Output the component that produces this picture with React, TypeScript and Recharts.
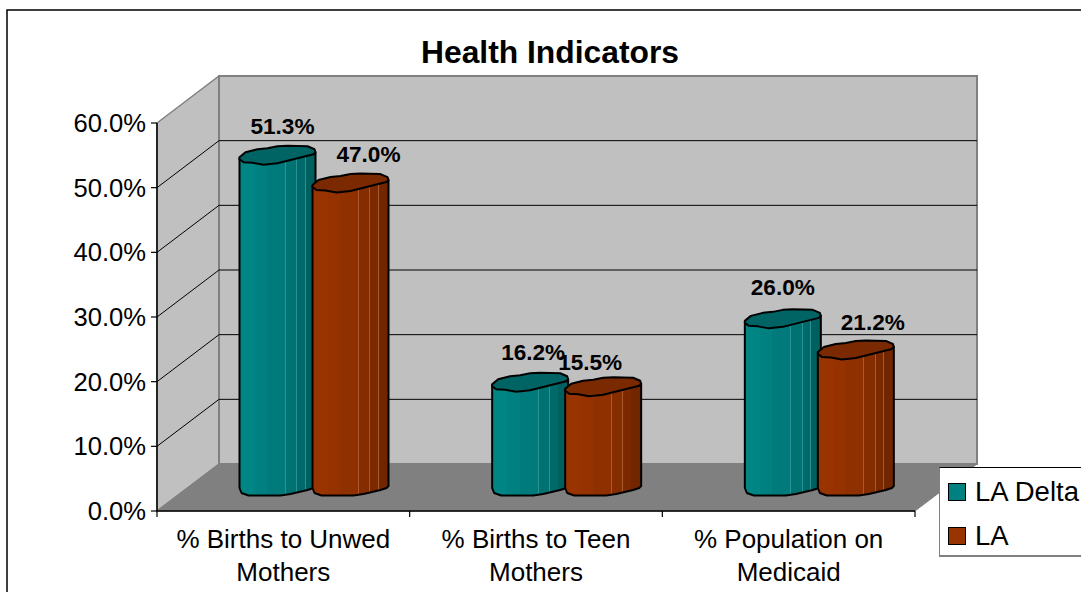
import { Bar, BarChart, CartesianGrid, LabelList, Legend, XAxis, YAxis } from "recharts";

const categories = ["% Births to Unwed Mothers", "% Births to Teen Mothers", "% Population on Medicaid"];
const laDelta = [51.3, 16.2, 26.0];
const la = [47.0, 15.5, 21.2];
const yTicks = [0, 10, 20, 30, 40, 50, 60];

const rows = categories.map((name, i) => ({ name, laDelta: laDelta[i], la: la[i] }));

const FONT = "'Liberation Sans', Arial, sans-serif";
const W = 1081;
const H = 592;
const LEFT = 157;
const RIGHT = 915;
const TOP = 123;
const BOTTOM = 511;
// 3d box depth
const DX = 62;
const DY = 47;
// cylinders sit half way into the depth of the box
const BAR_DX = 29.5;
const BAR_DY = 24;

// lumpy outlines, in px relative to the left edge of the cylinder
const topOutline = [
  [0, 2], [6, -3], [18, -6], [28, -7], [38, -9], [48, -9.5], [68, -9], [75, -6], [76, -3],
  [74, -1], [58, 3], [38, 8], [24, 9.5], [13, 7.5], [4, 7], [0, 4],
];
const bottomOutline = [[2, 6], [9, 8.5], [28, 8.5], [41, 8.5], [51, 7], [68, 3], [74, 1]];

// label offset relative to the middle of its cylinder's lid
const deltaNudge = [
  { x: 5, y: -21 }, { x: 3, y: -22 }, { x: 0, y: -24 },
];
const laNudge = [
  { x: 18, y: -21 }, { x: -13, y: -17 }, { x: 17, y: -20 },
];

function smooth(pts: number[][], ox: number, oy: number) {
  let d = "";
  pts.forEach(([u, v], i) => {
    const px = ox + u;
    const py = oy + v;
    if (i === 0) d += `M${px} ${py}`;
    else {
      const [pu, pv] = pts[i - 1];
      d += ` Q${ox + pu} ${oy + pv} ${(ox + pu + px) / 2} ${(oy + pv + py) / 2} L${px} ${py}`;
    }
  });
  return d;
}

function Cylinder(props: any) {
  const { x, y, height, gradient, lid } = props;
  const bx = x + BAR_DX;
  const top = y - BAR_DY;
  const base = y + height - BAR_DY;
  const body =
    `M${bx} ${top + 3} L${bx} ${base + 1} ` +
    bottomOutline.map(([u, v]) => `L${bx + u} ${base + v}`).join(" ") +
    ` L${bx + 76} ${base - 1} L${bx + 76} ${top - 3} Z`;
  return (
    <g>
      <path d={body} fill={`url(#${gradient})`} stroke="#000" strokeWidth={2} strokeLinejoin="round" />
      <path d={smooth(topOutline, bx, top) + " Z"} fill={lid} stroke="#000" strokeWidth={2} strokeLinejoin="round" />
    </g>
  );
}

function makeLabel(nudges: { x: number; y: number }[]) {
  return function BarLabel(props: any) {
    const { x, y, width, value, index } = props;
    const n = nudges[index];
    return (
      <text
        x={x + BAR_DX + (width + 3) / 2 + n.x}
        y={y - BAR_DY + n.y}
        textAnchor="middle"
        fontFamily={FONT}
        fontWeight="bold"
        fontSize={22.6}
        fill="#000"
      >
        {Number(value).toFixed(1)}%
      </text>
    );
  };
}

function CategoryTick(props: any) {
  const { x, y, index, payload } = props;
  const band = (RIGHT - LEFT) / categories.length;
  const words = String(payload.value).split(" ");
  const last = words.pop();
  return (
    <g>
      <line x1={x - band / 2} x2={x - band / 2} y1={BOTTOM} y2={BOTTOM + 6} stroke="#000" strokeWidth={1.2} />
      {index === categories.length - 1 && (
        <line x1={x + band / 2} x2={x + band / 2} y1={BOTTOM} y2={BOTTOM + 6} stroke="#000" strokeWidth={1.2} />
      )}
      <text textAnchor="middle" fontFamily={FONT} fontSize={26} fill="#000">
        <tspan x={x} y={y + 29}>{words.join(" ")}</tspan>
        <tspan x={x} y={y + 62}>{last}</tspan>
      </text>
    </g>
  );
}

function GridLine(props: any) {
  const { x1, x2, y1 } = props;
  if (Math.abs(y1 - BOTTOM) < 1 || Math.abs(y1 - TOP) < 1) return <g />;
  return (
    <g>
      <line x1={x1} y1={y1} x2={x1 + DX} y2={y1 - DY} stroke="#000" strokeWidth={1} />
      <line x1={x1 + DX} y1={y1 - DY} x2={x2 + DX} y2={y1 - DY} stroke="#000" strokeWidth={1} />
    </g>
  );
}

function LegendBox() {
  const items = [
    { label: "LA Delta", color: "#008080" },
    { label: "LA", color: "#993300" },
  ];
  return (
    <div style={{ position: "relative", width: 142, height: 90, background: "#fff", borderTop: "1.5px solid #000", borderLeft: "1.5px solid #808080", borderBottom: "2px solid #808080", boxSizing: "border-box", fontFamily: FONT, fontSize: 27.5, color: "#000" }}>
      {items.map((it, i) => (
        <div key={it.label} style={{ position: "absolute", left: 8, top: 8 + i * 44, display: "flex", alignItems: "center", whiteSpace: "nowrap" }}>
          <span style={{ display: "inline-block", width: 16, height: 16, background: it.color, border: "1.5px solid #000", marginRight: 9 }} />
          <span>{it.label}</span>
        </div>
      ))}
    </div>
  );
}

// hard edged facets, lighter seams between some of them
function facetStops(shades: string[], seam: string) {
  const bands: [number, number, string][] = [
    [0, 0.2, shades[0]], [0.2, 0.36, shades[1]], [0.36, 0.6, shades[2]], [0.6, 0.61, seam],
    [0.61, 0.75, shades[3]], [0.75, 0.76, seam], [0.76, 0.86, shades[4]], [0.86, 0.87, seam], [0.87, 1, shades[5]],
  ];
  return bands.flatMap(([a, b, c], i) => [
    <stop key={`${i}a`} offset={a} stopColor={c} />,
    <stop key={`${i}b`} offset={b} stopColor={c} />,
  ]);
}

export default function App() {
  return (
    <div style={{ position: "absolute", left: 0, top: 0, width: W, height: H, overflow: "hidden", background: "#fff" }}>
      <svg width={W} height={H} style={{ position: "absolute", left: 0, top: 0 }}>
        <rect x={7} y={10} width={W + 20} height={H + 20} fill="#fff" stroke="#000" strokeWidth={1.5} />
        <text x={550} y={63} textAnchor="middle" fontFamily={FONT} fontWeight="bold" fontSize={31.8} fill="#000">
          Health Indicators
        </text>
        {/* side wall, back wall, floor */}
        <polygon points={`${LEFT},${TOP} ${LEFT + DX},${TOP - DY} ${LEFT + DX},${BOTTOM - DY} ${LEFT},${BOTTOM}`} fill="#c0c0c0" stroke="#808080" strokeWidth={1.5} />
        <polygon points={`${LEFT + DX},${TOP - DY} ${RIGHT + DX},${TOP - DY} ${RIGHT + DX},${BOTTOM - DY} ${LEFT + DX},${BOTTOM - DY}`} fill="#c0c0c0" stroke="#808080" strokeWidth={2} />
        <polygon points={`${LEFT},${BOTTOM} ${RIGHT},${BOTTOM} ${RIGHT + DX},${BOTTOM - DY} ${LEFT + DX},${BOTTOM - DY}`} fill="#808080" stroke="#808080" strokeWidth={1} />
      </svg>
      <div style={{ position: "absolute", left: 0, top: 0 }}>
        <BarChart
          width={W}
          height={H}
          data={rows}
          barSize={73}
          barGap={0}
          barCategoryGap={0}
          margin={{ top: TOP, left: LEFT - 80, right: W - RIGHT, bottom: H - BOTTOM - 60 }}
        >
          <defs>
            <linearGradient id="tealSide" x1="0" x2="1" y1="0" y2="0">
              {facetStops(["#008585", "#008080", "#007a7a", "#007272", "#006a6a", "#005f5f"], "#2a9292")}
            </linearGradient>
            <linearGradient id="rustSide" x1="0" x2="1" y1="0" y2="0">
              {facetStops(["#993300", "#963200", "#8f3000", "#862d00", "#7c2900", "#712600"], "#a9592f")}
            </linearGradient>
          </defs>
          <CartesianGrid vertical={false} horizontal={GridLine} />
          <XAxis
            dataKey="name"
            interval={0}
            height={60}
            tickLine={false}
            axisLine={{ stroke: "#000", strokeWidth: 1.5 }}
            tick={CategoryTick}
          />
          <YAxis
            width={80}
            domain={[0, 60]}
            ticks={yTicks}
            tickSize={6}
            tickMargin={5}
            tickFormatter={(v: number) => `${v.toFixed(1)}%`}
            tick={{ fontFamily: FONT, fontSize: 25.6, fill: "#000" }}
            tickLine={{ stroke: "#000", strokeWidth: 1.2 }}
            axisLine={{ stroke: "#000", strokeWidth: 1.5 }}
          />
          <Legend
            layout="vertical"
            align="center"
            verticalAlign="middle"
            wrapperStyle={{ left: 939, top: 467, width: 142, height: 90 }}
            content={<LegendBox />}
          />
          <Bar
            dataKey="laDelta"
            name="LA Delta"
            isAnimationActive={false}
            shape={(p: any) => <Cylinder {...p} gradient="tealSide" lid="#006464" />}
          >
            <LabelList dataKey="laDelta" content={makeLabel(deltaNudge)} />
          </Bar>
          <Bar
            dataKey="la"
            name="LA"
            isAnimationActive={false}
            shape={(p: any) => <Cylinder {...p} gradient="rustSide" lid="#7a2900" />}
          >
            <LabelList dataKey="la" content={makeLabel(laNudge)} />
          </Bar>
        </BarChart>
      </div>
    </div>
  );
}
